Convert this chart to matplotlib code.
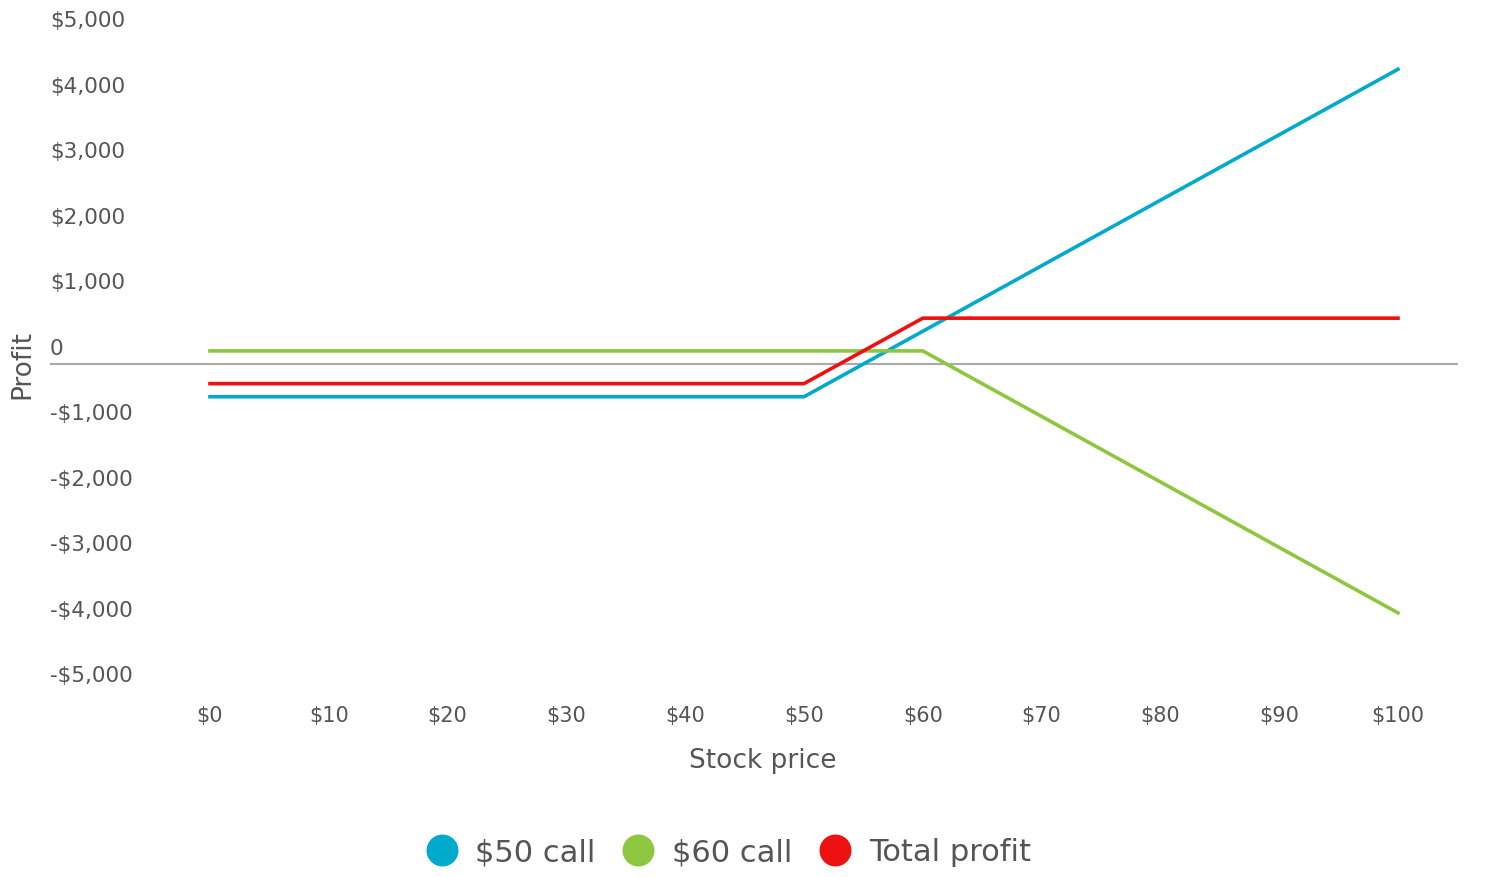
import matplotlib.pyplot as plt
from matplotlib.lines import Line2D
import matplotlib.transforms as mtransforms

# stock price at expiry and profit of each leg
prices = [0, 10, 20, 30, 40, 50, 60, 70, 80, 90, 100]
call_50 = [-500, -500, -500, -500, -500, -500, 500, 1500, 2500, 3500, 4500]
call_60 = [200, 200, 200, 200, 200, 200, 200, -800, -1800, -2800, -3800]
total = [-300, -300, -300, -300, -300, -300, 700, 700, 700, 700, 700]

y_ticks = [5000, 4000, 3000, 2000, 1000, 0, -1000, -2000, -3000, -4000, -5000]
y_labels = ["$5,000", "$4,000", "$3,000", "$2,000", "$1,000", "0",
            "-$1,000", "-$2,000", "-$3,000", "-$4,000", "-$5,000"]
x_labels = ["$" + str(p) for p in prices]

series = [("$50 call", call_50, "#00AACC"),
          ("$60 call", call_60, "#8DC63F"),
          ("Total profit", total, "#EE1111")]

plt.rcParams['font.family'] = ['DejaVu Sans']
text_col = "#555555"

fig = plt.figure(figsize=(15, 8.78), dpi=100)
W, H = 1500, 878
ax = fig.add_axes([50 / W, 1 - 692.5 / H, (1458 - 50) / W, (692.5 - 37.5) / H])
ax.set_xlim((50 - 210) / 11.88, (1458 - 210) / 11.88)
ax.set_ylim(-5000, 5000)
for s in ax.spines.values():
    s.set_visible(False)
ax.set_xticks([])
ax.set_yticks([])

ax.axhline(0, color="#aaaaaa", lw=1.5, zorder=1)

for name, vals, col in series:
    ax.plot(prices, vals, color=col, lw=2.6, zorder=2)

# y labels sit a little above their value
up = mtransforms.offset_copy(ax.transData, fig=fig, x=0, y=16, units='dots')
ytrans = mtransforms.blended_transform_factory(ax.transAxes, up)
for v, lab in zip(y_ticks, y_labels):
    ax.text(0, v, lab, transform=ytrans, ha='left', va='center',
            fontsize=15.5, color=text_col)

down = mtransforms.offset_copy(ax.transAxes, fig=fig, x=0, y=-23.5, units='dots')
xtrans = mtransforms.blended_transform_factory(ax.transData, down)
for p, lab in zip(prices, x_labels):
    ax.text(p, 0, lab, transform=xtrans, ha='center', va='center',
            fontsize=15, color=text_col)

fig.text(763 / W, 1 - 761 / H, "Stock price", ha='center', va='center',
         fontsize=19, color=text_col)
fig.text(22 / W, 1 - 365 / H, "Profit", ha='center', va='center',
         rotation=90, fontsize=19, color=text_col)

handles = [Line2D([], [], marker='o', ls='none', markersize=22,
                  markerfacecolor=col, markeredgecolor=col)
           for name, vals, col in series]
fig.legend(handles, [s[0] for s in series], loc='center',
           bbox_to_anchor=(727 / W, 1 - 853 / H), ncol=3, frameon=False,
           fontsize=22, labelcolor=text_col, handletextpad=0.5,
           columnspacing=0.8, handlelength=1.2)

fig.savefig("out.png", dpi=100)
